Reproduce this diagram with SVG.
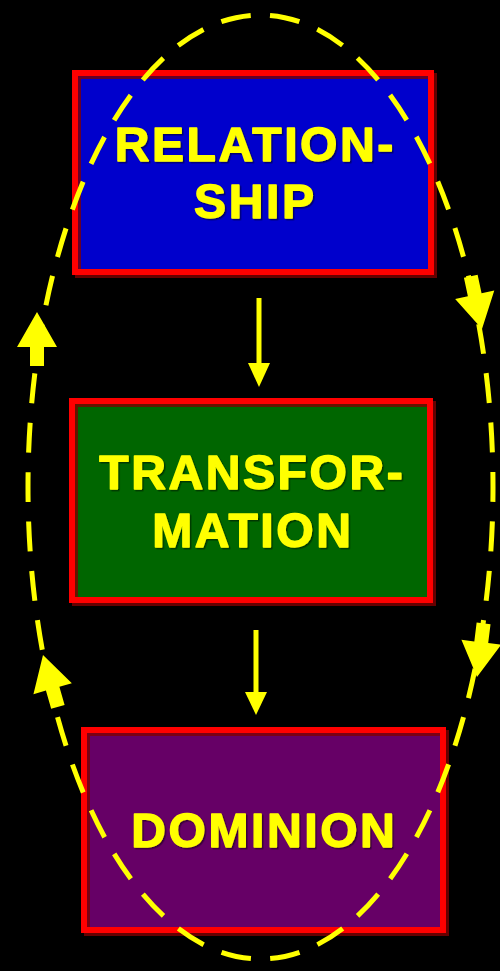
<svg xmlns="http://www.w3.org/2000/svg" width="500" height="971" viewBox="0 0 500 971">
  <defs>
    <style>
      .frame { fill: none; stroke: #FF0000; stroke-width: 6; }
      .shadow { fill: none; stroke: #800000; stroke-width: 6; opacity: 0.8; }
      .label { font-family: "Liberation Sans", Arial, sans-serif; font-weight: bold; font-size: 48px; fill: #FFFF00; stroke: #FFFF00; stroke-width: 1.4px; stroke-linejoin: round; text-anchor: middle; letter-spacing: 2.6px; filter: url(#ts); }
      .loop { fill: none; stroke: #FFFF00; stroke-width: 5; stroke-dasharray: 30 19.5; stroke-dashoffset: 15; }
      .link { stroke: #FFFF00; stroke-width: 5; fill: none; }
      .head { fill: #FFFF00; }
    </style>
    <filter id="ts" x="-5%" y="-20%" width="110%" height="140%">
      <feDropShadow dx="1.5" dy="1.5" stdDeviation="0.3" flood-color="#000000" flood-opacity="0.45"/>
    </filter>
    <polygon id="blockArrow" points="0,0 -20,-35 -7,-35 -7,-54 7,-54 7,-35 20,-35"/>
  </defs>

  <rect x="0" y="0" width="500" height="971" fill="#000000"/>

  <g id="node-relationship">
    <rect x="75" y="73" width="356" height="199" fill="#0000CC"/>
    <rect class="shadow" x="78" y="76" width="356" height="199"/>
    <rect class="frame" x="75" y="73" width="356" height="199"/>
    <text class="label" x="255.3" y="161">RELATION-</text>
    <text class="label" x="255.3" y="218">SHIP</text>
  </g>

  <g id="node-transformation">
    <rect x="72" y="401" width="358" height="199" fill="#006600"/>
    <rect class="shadow" x="75" y="404" width="358" height="199"/>
    <rect class="frame" x="72" y="401" width="358" height="199"/>
    <text class="label" x="252.3" y="489">TRANSFOR-</text>
    <text class="label" x="252.8" y="547">MATION</text>
  </g>

  <g id="node-dominion">
    <rect x="84" y="730" width="359" height="200" fill="#660066"/>
    <rect class="shadow" x="87" y="733" width="359" height="200"/>
    <rect class="frame" x="84" y="730" width="359" height="200"/>
    <text class="label" x="264.3" y="847">DOMINION</text>
  </g>

  <g id="connectors">
    <line class="link" x1="259" y1="298" x2="259" y2="366"/>
    <polygon class="head" points="248,363 270,363 259,387"/>
    <line class="link" x1="256" y1="630" x2="256" y2="695"/>
    <polygon class="head" points="245,692 267,692 256,715"/>

    <ellipse class="loop" cx="260.5" cy="487" rx="232.5" ry="472"/>

    <use href="#blockArrow" class="head" transform="translate(482,329) rotate(-12)"/>
    <use href="#blockArrow" class="head" transform="translate(477,677) rotate(7)"/>
    <use href="#blockArrow" class="head" transform="translate(43,655) rotate(164)"/>
    <use href="#blockArrow" class="head" transform="translate(37,312) rotate(180)"/>
  </g>
</svg>
